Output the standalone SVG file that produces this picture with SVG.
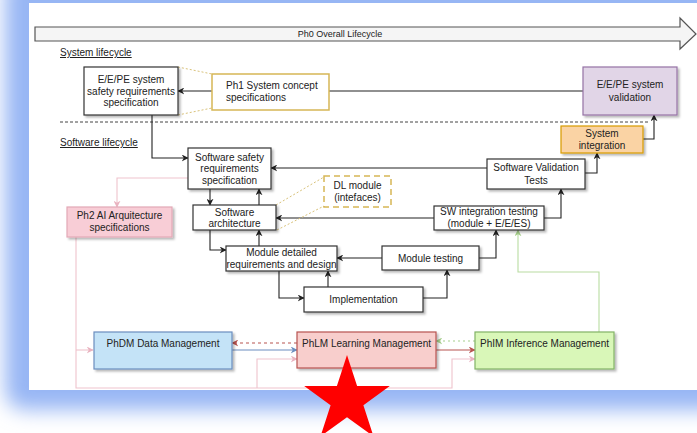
<svg xmlns="http://www.w3.org/2000/svg" width="697" height="433" viewBox="0 0 697 433">
<style>
text{font-family:"Liberation Sans",Arial,sans-serif;font-size:10px;fill:#222}
.c{text-anchor:middle}
.box{fill:#fff;stroke:#333;stroke-width:1.2}
.ln{fill:none;stroke:#222;stroke-width:1.1}
.pk{fill:none;stroke:#efc3cd;stroke-width:1.1}
.yl{fill:none;stroke:#d9c27a;stroke-width:1;stroke-dasharray:2,2}
</style>
<defs>
<filter id="glow" x="-10%" y="-10%" width="120%" height="120%"><feGaussianBlur stdDeviation="10"/></filter>
<filter id="sh" x="-10%" y="-10%" width="130%" height="140%"><feDropShadow dx="2" dy="2" stdDeviation="0.8" flood-color="#000" flood-opacity="0.28"/></filter>
<marker id="a" viewBox="0 0 10 10" refX="9" refY="5" markerWidth="7" markerHeight="7" orient="auto" markerUnits="userSpaceOnUse"><path d="M0,0 L10,5 L0,10 L3,5 z" fill="#222"/></marker>
<marker id="ap" viewBox="0 0 10 10" refX="9" refY="5" markerWidth="7" markerHeight="7" orient="auto" markerUnits="userSpaceOnUse"><path d="M0,0 L10,5 L0,10 L3,5 z" fill="#e9b3c0"/></marker>
<marker id="ar" viewBox="0 0 10 10" refX="9" refY="5" markerWidth="7" markerHeight="7" orient="auto" markerUnits="userSpaceOnUse"><path d="M0,0 L10,5 L0,10 L3,5 z" fill="#b85450"/></marker>
<marker id="ab" viewBox="0 0 10 10" refX="9" refY="5" markerWidth="7" markerHeight="7" orient="auto" markerUnits="userSpaceOnUse"><path d="M0,0 L10,5 L0,10 L3,5 z" fill="#6c8ebf"/></marker>
<marker id="ag" viewBox="0 0 10 10" refX="9" refY="5" markerWidth="7" markerHeight="7" orient="auto" markerUnits="userSpaceOnUse"><path d="M0,0 L10,5 L0,10 L3,5 z" fill="#a8d08d"/></marker>
</defs>
<rect width="697" height="433" fill="#fff"/>
<rect x="5" y="-30" width="730" height="440" rx="20" fill="#97b6f4" filter="url(#glow)"/>
<rect x="29" y="3" width="668" height="387" fill="#fff"/>

<g id="overall">
<polygon points="35,27 680,27 680,18 696,34 680,49 680,41 35,41" fill="#f5f5f5" stroke="#555" stroke-width="1.2"/>
<text class="c" x="340" y="37" style="font-size:9px">Ph0 Overall Lifecycle</text>
</g>
<g id="labels">
<text x="60" y="56" text-decoration="underline">System lifecycle</text>
<text x="60" y="146" text-decoration="underline">Software lifecycle</text>
<line x1="60" y1="122" x2="650" y2="122" stroke="#444" stroke-width="1" stroke-dasharray="3,2"/>
</g>

<g id="connectors">
<path class="ln" d="M583,91 H178" marker-end="url(#a)"/>
<path class="yl" d="M178,67 L212,74 M178,115 L212,108"/>
<path class="ln" d="M152,115 V158 H188" marker-end="url(#a)"/>
<path class="ln" d="M210,189 V205" marker-end="url(#a)"/>
<path class="ln" d="M259,205 V189" marker-end="url(#a)"/>
<path class="ln" d="M210,230 V250 H226" marker-end="url(#a)"/>
<path class="ln" d="M259,246 V230" marker-end="url(#a)"/>
<path class="ln" d="M279,271 V298 H304" marker-end="url(#a)"/>
<path class="ln" d="M328,287 V271" marker-end="url(#a)"/>
<path class="ln" d="M382,258 H337" marker-end="url(#a)"/>
<path class="ln" d="M423,298 H447 V270" marker-end="url(#a)"/>
<path class="ln" d="M479,258 H496 V230" marker-end="url(#a)"/>
<path class="ln" d="M434,218 H276" marker-end="url(#a)"/>
<path class="ln" d="M544,218 H561 V189" marker-end="url(#a)"/>
<path class="ln" d="M487,168 H271" marker-end="url(#a)"/>
<path class="ln" d="M585,173 H597 V153" marker-end="url(#a)"/>
<path class="ln" d="M643,139 H654 V115" marker-end="url(#a)"/>
<path class="yl" d="M276,205 L324,177 M277,230 L324,206"/>
<path class="pk" d="M188,178 H117 V207" marker-end="url(#ap)"/>
<path class="pk" d="M76,237 V388 H452 V359 H475" marker-end="url(#ap)"/>
<path class="pk" d="M76,350 H93" marker-end="url(#ap)"/>
<path class="pk" d="M257,388 V359 H297" marker-end="url(#ap)"/>
<path d="M297,343 H232" fill="none" stroke="#b85450" stroke-width="1.1" stroke-dasharray="3,3" marker-end="url(#ar)"/>
<path d="M232,350 H297" fill="none" stroke="#6c8ebf" stroke-width="1.1" marker-end="url(#ab)"/>
<path d="M475,341 H436" fill="none" stroke="#a8d08d" stroke-width="1.1" stroke-dasharray="2,3" marker-end="url(#ag)"/>
<path d="M436,350 H475" fill="none" stroke="#b85450" stroke-width="1.1" marker-end="url(#ar)"/>
<path d="M599,332 V272 H518 V230" fill="none" stroke="#b9dca2" stroke-width="1.1" marker-end="url(#ag)"/>
</g>

<g id="ee-safety">
<rect class="box" x="84" y="67" width="94" height="48" filter="url(#sh)"/>
<text class="c" x="131" y="83">E/E/PE system</text>
<text class="c" x="131" y="94.5">safety requirements</text>
<text class="c" x="131" y="106">specification</text>
</g>
<g id="ph1">
<rect x="212" y="74" width="117" height="36" fill="#fff" stroke="#d6b656" stroke-width="1.5"/>
<text x="226" y="88.5">Ph1 System concept</text>
<text x="226" y="100.5">specifications</text>
</g>
<g id="ee-validation">
<rect x="583" y="67" width="94" height="48" fill="#e1d5e7" stroke="#9673a6" stroke-width="1.2" filter="url(#sh)"/>
<text class="c" x="630" y="88">E/E/PE system</text>
<text class="c" x="630" y="100.5">validation</text>
</g>
<g id="ssrs">
<rect class="box" x="188" y="148" width="83" height="41" filter="url(#sh)"/>
<text class="c" x="229.5" y="160.5">Software safety</text>
<text class="c" x="229.5" y="172">requirements</text>
<text class="c" x="229.5" y="183.5">specification</text>
</g>
<g id="sw-arch">
<rect class="box" x="193" y="205" width="83" height="25" filter="url(#sh)"/>
<text class="c" x="234.5" y="215.5">Software</text>
<text class="c" x="234.5" y="227">architecture</text>
</g>
<g id="mdrd">
<rect class="box" x="226" y="246" width="111" height="25" filter="url(#sh)"/>
<text class="c" x="281.5" y="255.5">Module detailed</text>
<text class="c" x="281.5" y="267.5">requirements and design</text>
</g>
<g id="impl">
<rect class="box" x="304" y="287" width="119" height="25" filter="url(#sh)"/>
<text class="c" x="363.5" y="303">Implementation</text>
</g>
<g id="mod-test">
<rect class="box" x="382" y="246" width="97" height="24" filter="url(#sh)"/>
<text class="c" x="430.5" y="261.5">Module testing</text>
</g>
<g id="swit">
<rect class="box" x="434" y="206" width="110" height="24" filter="url(#sh)"/>
<text class="c" x="489" y="215">SW integration testing</text>
<text class="c" x="489" y="226.5">(module + E/E/ES)</text>
</g>
<g id="svt">
<rect class="box" x="487" y="159" width="98" height="30" filter="url(#sh)"/>
<text class="c" x="536" y="171">Software Validation</text>
<text class="c" x="536" y="183.5">Tests</text>
</g>
<g id="sys-int">
<rect x="561" y="126" width="82" height="27" fill="#fad3a4" stroke="#d79b00" stroke-width="1.2" filter="url(#sh)"/>
<text class="c" x="602" y="136.5">System</text>
<text class="c" x="602" y="148.5">integration</text>
</g>
<g id="dl-module">
<rect x="324" y="176" width="67" height="31" fill="#fff" stroke="#d6b656" stroke-width="1.5" stroke-dasharray="6,4"/>
<text class="c" x="357.5" y="188.5">DL module</text>
<text class="c" x="357.5" y="200.5">(intefaces)</text>
</g>
<g id="ph2">
<rect x="67" y="207" width="105" height="30" fill="#f8cdd6" stroke="#e3a9b6" stroke-width="1.2" filter="url(#sh)"/>
<text class="c" x="119.5" y="219">Ph2 AI Arquitecture</text>
<text class="c" x="119.5" y="231">specifications</text>
</g>
<g id="phdm">
<rect x="94" y="332" width="138" height="37" fill="#c4e3f7" stroke="#6c8ebf" stroke-width="1.2" filter="url(#sh)"/>
<text class="c" x="163" y="346.5">PhDM Data Management</text>
</g>
<g id="phlm">
<rect x="297" y="332" width="139" height="36" fill="#f8cecc" stroke="#b85450" stroke-width="1.2" filter="url(#sh)"/>
<text class="c" x="366.5" y="346.5">PhLM Learning Management</text>
</g>
<g id="phim">
<rect x="475" y="332" width="139" height="37" fill="#d9f7b8" stroke="#82b366" stroke-width="1.2" filter="url(#sh)"/>
<text class="c" x="544.5" y="346.5">PhIM Inference Management</text>
</g>
<polygon id="star" points="347,355 357.1,386.1 389.8,386.1 363.4,405.3 373.5,436.4 347,417.2 320.5,436.4 330.6,405.3 304.2,386.1 336.9,386.1" fill="#ff0000"/>
</svg>
